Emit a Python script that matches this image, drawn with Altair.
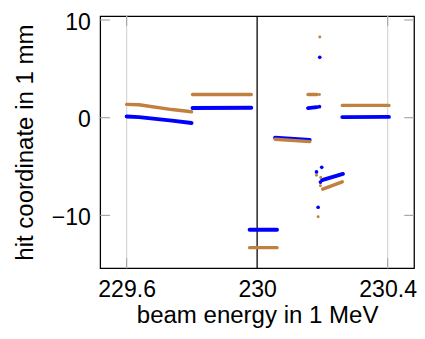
import altair as alt
import pandas as pd

# ---- data ----
# line-like runs of dense hits: (segment id, beam energy, hit coordinate)
blue_seg_id = [1, 1, 1, 1, 2, 2, 3, 3, 4, 4, 5, 5, 6, 6, 7, 7]
blue_seg_x = [229.600, 229.638, 229.739, 229.799, 229.802, 229.982, 229.977, 230.061,
              230.055, 230.161, 230.156, 230.183, 230.199, 230.263, 230.261, 230.404]
blue_seg_y = [0.13, 0.06, -0.30, -0.54, 1.00, 1.02, -11.47, -11.47,
              -2.05, -2.28, 0.98, 1.08, -6.39, -5.76, 0.06, 0.08]

brown_seg_id = [1, 1, 1, 1, 2, 2, 3, 3, 4, 4, 5, 5, 6, 6, 7, 7]
brown_seg_x = [229.600, 229.638, 229.739, 229.799, 229.802, 229.982, 229.977, 230.061,
               230.055, 230.161, 230.156, 230.183, 230.201, 230.261, 230.261, 230.404]
brown_seg_y = [1.36, 1.33, 0.83, 0.60, 2.38, 2.38, -13.30, -13.30,
               -2.20, -2.45, 2.37, 2.37, -7.32, -6.56, 1.26, 1.26]

# isolated hits
blue_dot_x = [230.191, 230.192, 230.198, 230.182, 230.194, 230.187]
blue_dot_y = [1.13, 6.18, -5.08, -5.55, -6.59, -9.17]
brown_dot_x = [230.191, 230.192, 230.182, 230.195, 230.194, 230.187]
brown_dot_y = [2.37, 8.25, -5.89, -6.12, -6.96, -10.13]

x_ticks = [229.6, 230.0, 230.4]
grid_x = [229.6, 230.4]
marker_x = [230.0]
y_ticks = [-10, 0, 10]

BLUE = "#0000ff"
BROWN = "#bf8040"
FONT = "Liberation Sans"
W, H = 320, 257

blue_seg = pd.DataFrame({"seg": blue_seg_id, "x": blue_seg_x, "y": blue_seg_y})
brown_seg = pd.DataFrame({"seg": brown_seg_id, "x": brown_seg_x, "y": brown_seg_y})
blue_dot = pd.DataFrame({"x": blue_dot_x, "y": blue_dot_y})
brown_dot = pd.DataFrame({"x": brown_dot_x, "y": brown_dot_y})
gx = pd.DataFrame({"x": grid_x})
mx = pd.DataFrame({"x": marker_x})
yt = pd.DataFrame({"y": y_ticks})

xs = alt.Scale(domain=[229.519, 230.481], nice=False, zero=False)
ys = alt.Scale(domain=[-15.4, 10.4], nice=False, zero=False)

x_axis = alt.Axis(values=x_ticks, format="~g", ticks=False, tickSize=0, domain=False,
                  grid=False, labelFont=FONT, labelFontSize=23.5, labelColor="black",
                  labelPadding=10, labelFlush=False, labelOverlap=False,
                  title="beam energy in 1 MeV", titleFont=FONT, titleFontSize=24.5,
                  titleFontWeight="normal", titleColor="black",
                  titleBaseline="alphabetic", titleY=55)
y_axis = alt.Axis(values=y_ticks, ticks=False, tickSize=0, domain=False, grid=False,
                  labelExpr="datum.value < 0 ? '\u2212' + (-datum.value) : '' + datum.value",
                  labelFont=FONT, labelFontSize=23.5, labelColor="black",
                  labelPadding=10, labelOffset=2.4, labelFlush=False, labelOverlap=False,
                  title="hit coordinate in 1 mm", titleFont=FONT, titleFontSize=24.5,
                  titleFontWeight="normal", titleColor="black",
                  titleBaseline="alphabetic", titleX=-69)

# gridlines (light gray) and axes
grid = alt.Chart(gx).mark_rule(color="#d6d6d6", strokeWidth=1.2).encode(
    x=alt.X("x:Q", scale=xs, axis=x_axis)
)
yaxis_carrier = alt.Chart(yt).mark_rule(opacity=0).encode(
    y=alt.Y("y:Q", scale=ys, axis=y_axis)
)

# inside ticks
tick_col = "#a8a8a8"
left_t = alt.Chart(yt).mark_rule(color=tick_col, strokeWidth=1.2).encode(
    y=alt.Y("y:Q", scale=ys), x=alt.value(0), x2=alt.value(10))
right_t = alt.Chart(yt).mark_rule(color=tick_col, strokeWidth=1.2).encode(
    y=alt.Y("y:Q", scale=ys), x=alt.value(W - 10), x2=alt.value(W))
bot_t = alt.Chart(gx).mark_rule(color=tick_col, strokeWidth=1.2).encode(
    x=alt.X("x:Q", scale=xs), y=alt.value(H - 10), y2=alt.value(H))
top_t = alt.Chart(gx).mark_rule(color=tick_col, strokeWidth=1.2).encode(
    x=alt.X("x:Q", scale=xs), y=alt.value(0), y2=alt.value(10))

marker = alt.Chart(mx).mark_rule(color="black", strokeWidth=1.3).encode(
    x=alt.X("x:Q", scale=xs))

blue_lines = alt.Chart(blue_seg).mark_line(color=BLUE, strokeWidth=4, strokeCap="round",
                                           strokeJoin="round").encode(
    x=alt.X("x:Q", scale=xs), y=alt.Y("y:Q", scale=ys), detail="seg:N")
brown_lines = alt.Chart(brown_seg).mark_line(color=BROWN, strokeWidth=3.5, strokeCap="round",
                                             strokeJoin="round").encode(
    x=alt.X("x:Q", scale=xs), y=alt.Y("y:Q", scale=ys), detail="seg:N")
blue_pts = alt.Chart(blue_dot).mark_circle(color=BLUE, size=14, opacity=1).encode(
    x=alt.X("x:Q", scale=xs), y=alt.Y("y:Q", scale=ys))
brown_pts = alt.Chart(brown_dot).mark_circle(color=BROWN, size=9, opacity=1).encode(
    x=alt.X("x:Q", scale=xs), y=alt.Y("y:Q", scale=ys))

chart = alt.layer(
    grid, yaxis_carrier, left_t, right_t, bot_t, top_t, marker,
    blue_lines, blue_pts, brown_lines, brown_pts
).properties(
    width=W, height=H,
    autosize=alt.AutoSizeParams(type="none"),
    padding={"left": 94, "top": 5, "right": 3, "bottom": 69},
).configure_view(stroke="black", strokeWidth=1.3)

chart.save("out.html", embed_options={"renderer": "svg", "actions": False})
